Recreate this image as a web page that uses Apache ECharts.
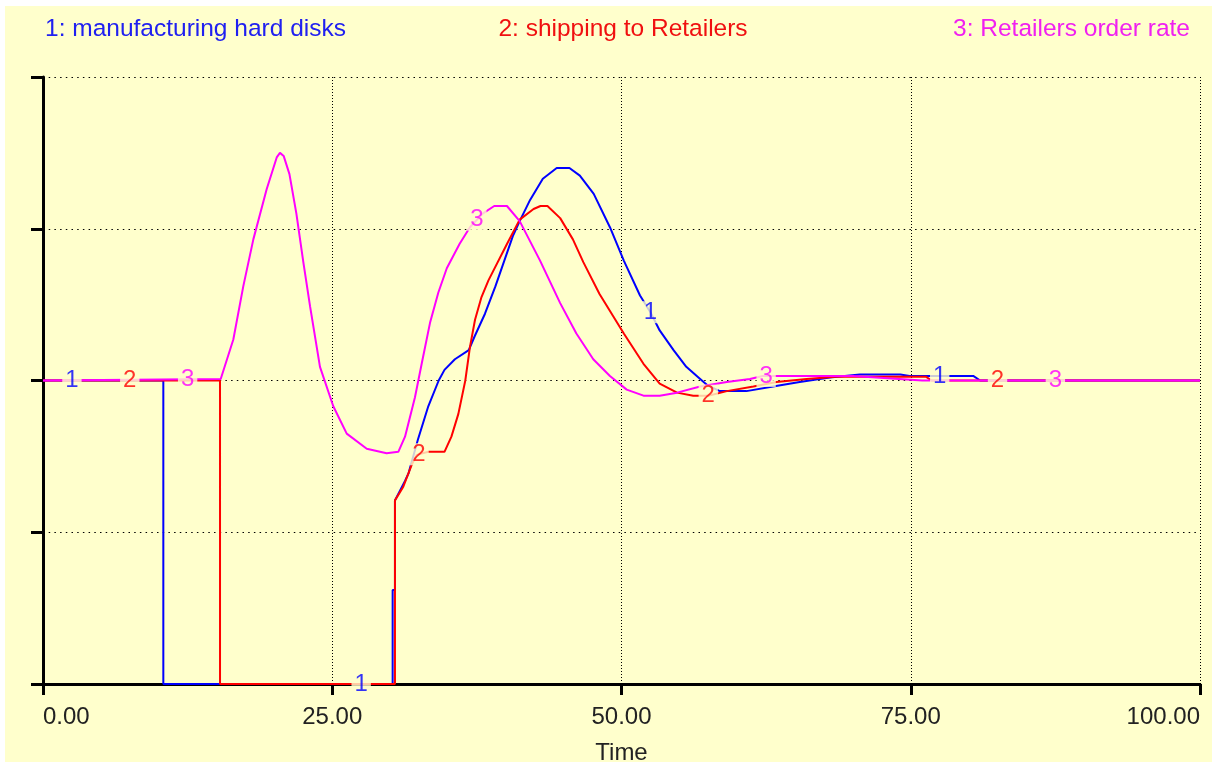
<!DOCTYPE html>
<html><head><meta charset="utf-8">
<script src="https://cdn.jsdelivr.net/npm/echarts@6/dist/echarts.min.js"></script>
<style>
html,body{margin:0;padding:0;background:#fff;}
#bg{position:absolute;left:5px;top:6px;width:1207px;height:756px;background:#FFFFCC;}
#chart{position:absolute;left:0;top:0;width:1214px;height:767px;}
</style></head><body>
<div id="bg"></div><div id="chart"></div>
<script>
// ---- data ----
const seriesNames = ['1: manufacturing hard disks', '2: shipping to Retailers', '3: Retailers order rate'];
const seriesColors = ['#0000FF', '#FF0000', '#FF00FF'];
const xTickLabels = ['0.00', '25.00', '50.00', '75.00', '100.00'];

// 1: manufacturing hard disks
const time1 = [0, 10.4, 10.4, 30.22, 30.22, 30.42, 30.42, 31.3, 31.6, 32.4, 33.3, 34.2, 34.7, 35.6, 36.8, 37.3, 38.2, 39.1, 40.6, 41.2, 42.1, 43.2, 44.4, 45.5, 46.4, 47.6, 49.0, 50.2, 51.6, 52.5, 53.3, 54.5, 55.6, 56.8, 57.4, 58.5, 60.8, 63.1, 65.4, 68.0, 70.6, 74.1, 74.9, 80.4, 81.0, 100];
const value1 = [2, 2, 0, 0, 0.62, 0.62, 1.21, 1.34, 1.39, 1.61, 1.83, 2.0, 2.07, 2.14, 2.20, 2.29, 2.44, 2.62, 2.95, 3.05, 3.19, 3.33, 3.40, 3.40, 3.35, 3.23, 3.01, 2.79, 2.56, 2.45, 2.33, 2.20, 2.09, 2.01, 1.97, 1.93, 1.93, 1.96, 1.99, 2.02, 2.04, 2.04, 2.03, 2.03, 2.0, 2.0];

// 2: shipping to Retailers
const time2 = [0, 15.3, 15.3, 30.42, 30.42, 31.14, 31.9, 32.3, 33.3, 34.7, 35.3, 35.9, 36.5, 36.9, 37.34, 37.9, 38.5, 40.1, 41.2, 42.4, 43.0, 43.6, 44.7, 45.8, 46.7, 48.1, 50.2, 51.9, 53.3, 54.8, 56.2, 57.5, 59.1, 61.4, 63.4, 66.0, 68.5, 76.3, 76.8, 100];
const value2 = [2, 2, 0, 0, 1.21, 1.30, 1.45, 1.51, 1.53, 1.53, 1.63, 1.78, 2.0, 2.22, 2.40, 2.55, 2.66, 2.90, 3.06, 3.13, 3.15, 3.15, 3.07, 2.93, 2.78, 2.57, 2.31, 2.11, 1.98, 1.92, 1.90, 1.90, 1.93, 1.96, 1.99, 2.01, 2.025, 2.025, 2.0, 2.0];

// 3: Retailers order rate
const time3 = [0, 15.36, 16.45, 17.31, 18.18, 19.33, 20.2, 20.48, 20.8, 21.3, 21.9, 22.5, 23.08, 23.94, 25.09, 26.25, 27.98, 29.7, 30.71, 31.29, 32.15, 32.73, 33.45, 34.17, 34.9, 36.0, 36.9, 38.0, 39.0, 40.1, 41.2, 42.96, 44.7, 46.1, 47.56, 49.0, 50.45, 51.9, 53.3, 54.8, 56.8, 59.1, 61.1, 62.2, 70.0, 76.0, 100];
const value3 = [2, 2.01, 2.27, 2.62, 2.93, 3.26, 3.47, 3.50, 3.48, 3.36, 3.10, 2.78, 2.49, 2.09, 1.83, 1.65, 1.55, 1.52, 1.53, 1.63, 1.89, 2.11, 2.38, 2.58, 2.74, 2.90, 3.01, 3.10, 3.15, 3.15, 3.05, 2.79, 2.51, 2.31, 2.14, 2.03, 1.94, 1.90, 1.90, 1.92, 1.96, 1.99, 2.01, 2.03, 2.03, 2.0, 2.0];

// times where each curve carries its number tag
const tagTimes1 = [2.5, 27.5, 52.5, 77.5];
const tagTimes2 = [7.5, 32.5, 57.5, 82.5];
const tagTimes3 = [12.5, 37.5, 62.5, 87.5];

// ---- build chart ----
const times = [time1, time2, time3];
const values = [value1, value2, value3];
const tagTimes = [tagTimes1, tagTimes2, tagTimes3];

function valueAt(ts, vs, t) {
  for (let i = ts.length - 1; i >= 0; i--) {
    if (ts[i] <= t) {
      if (i === ts.length - 1 || ts[i + 1] === ts[i]) return vs[i];
      const f = (t - ts[i]) / (ts[i + 1] - ts[i]);
      return vs[i] + f * (vs[i + 1] - vs[i]);
    }
  }
  return vs[0];
}

const FONT = '"Liberation Sans", Arial, sans-serif';
const series = [];
for (let k = 0; k < 3; k++) {
  series.push({
    type: 'line', name: seriesNames[k], z: 2 + k,
    data: times[k].map((t, i) => [t, values[k][i]]),
    showSymbol: false, smooth: false, silent: true,
    lineStyle: { color: seriesColors[k], width: 2 },
    itemStyle: { color: seriesColors[k] }
  });
}
for (let k = 0; k < 3; k++) {
  series.push({
    type: 'scatter', z: 10, silent: true,
    symbolSize: 0.1,
    itemStyle: { color: 'rgba(0,0,0,0)' },
    data: tagTimes[k].map(t => [t, valueAt(times[k], values[k], t)]),
    label: {
      show: true, position: 'inside', formatter: String(k + 1),
      color: seriesColors[k], fontSize: 24, fontFamily: FONT,
      backgroundColor: '#FFFFCC', padding: [0, 3, 0, 3], lineHeight: 22
    }
  });
}

const chart = echarts.init(document.getElementById('chart'), null, { renderer: 'canvas' });
chart.setOption({
  animation: false,
  grid: { left: 43, right: 14, top: 77, bottom: 83, containLabel: false, outerBoundsMode: 'none' },
  graphic: [
    { type: 'text', x: 45, y: 29, style: { text: seriesNames[0], fill: '#2020F0', font: '24.5px ' + FONT, align: 'left', verticalAlign: 'middle' } },
    { type: 'text', x: 623, y: 29, style: { text: seriesNames[1], fill: '#F01010', font: '24.5px ' + FONT, align: 'center', verticalAlign: 'middle' } },
    { type: 'text', x: 1190, y: 29, style: { text: seriesNames[2], fill: '#F020F0', font: '24.5px ' + FONT, align: 'right', verticalAlign: 'middle' } }
  ],
  xAxis: {
    type: 'value', min: 0, max: 100, interval: 25,
    name: 'Time', nameLocation: 'middle', nameGap: 57,
    nameTextStyle: { color: '#222', fontSize: 24, fontFamily: FONT },
    axisLine: { show: true, lineStyle: { color: '#000', width: 3 } },
    axisTick: { show: true, length: 11, lineStyle: { color: '#000', width: 3 } },
    axisLabel: {
      color: '#222', fontSize: 24, fontFamily: FONT, margin: 21,
      alignMinLabel: 'left', alignMaxLabel: 'right',
      formatter: v => xTickLabels[Math.round(v / 25)]
    },
    splitLine: { show: true, lineStyle: { color: '#000', width: 1, type: [1, 2] } }
  },
  yAxis: {
    type: 'value', min: 0, max: 4, interval: 1,
    axisLine: { show: true, onZero: false, lineStyle: { color: '#000', width: 3 } },
    axisTick: { show: true, length: 12, lineStyle: { color: '#000', width: 3 } },
    axisLabel: { show: false },
    splitLine: { show: true, lineStyle: { color: '#000', width: 1, type: [1.5, 4.2] } }
  },
  series: series
});
</script>
</body></html>
